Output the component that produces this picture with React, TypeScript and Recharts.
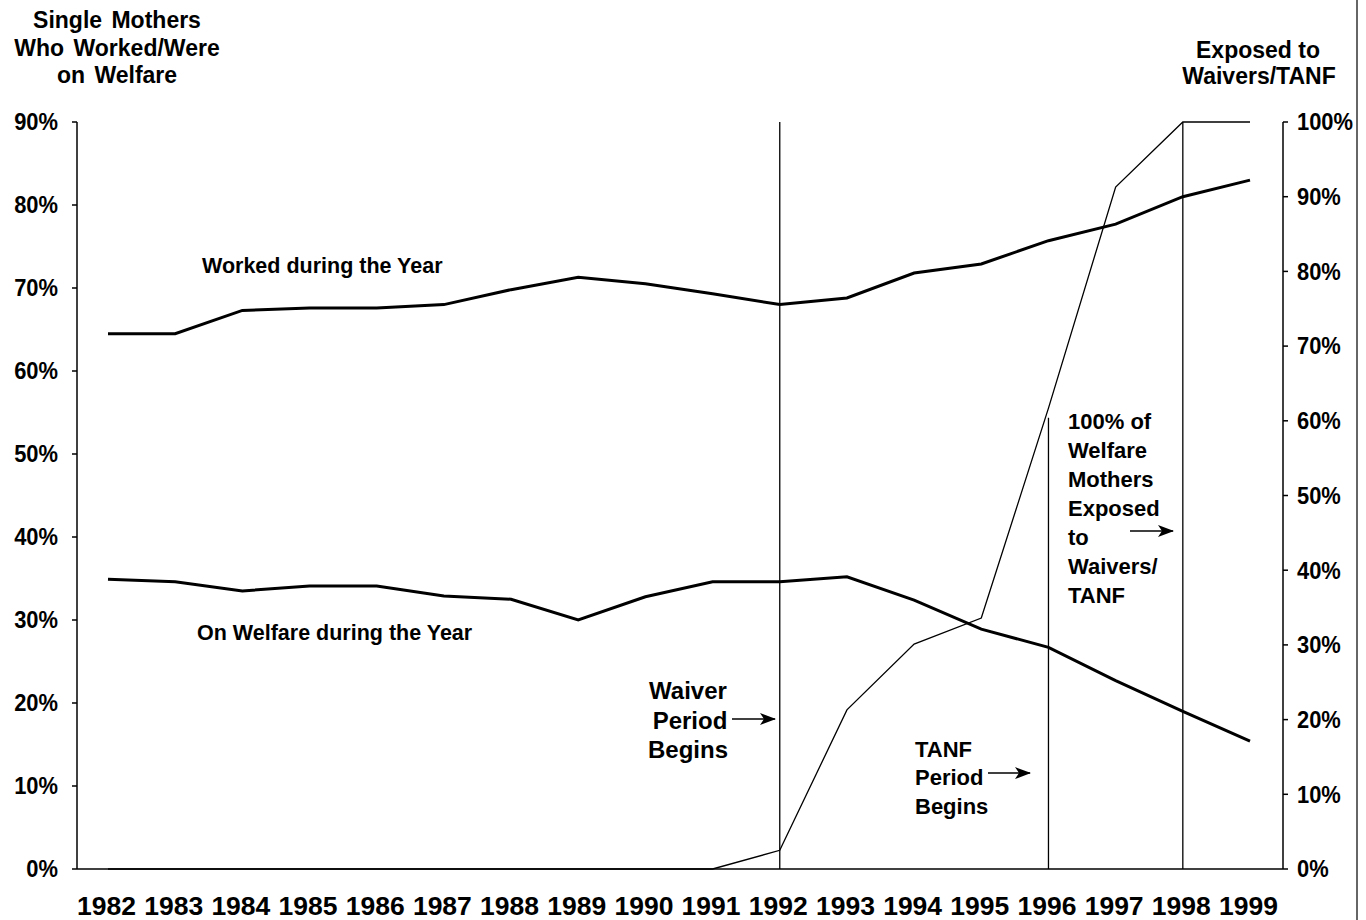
import React from 'react';
import { LineChart, Line, XAxis, YAxis, ReferenceLine } from 'recharts';

const years = ['1982', '1983', '1984', '1985', '1986', '1987', '1988', '1989', '1990', '1991', '1992', '1993', '1994', '1995', '1996', '1997', '1998', '1999'];
const workedPct = [64.5, 64.5, 67.3, 67.6, 67.6, 68.0, 69.8, 71.3, 70.5, 69.3, 68.0, 68.8, 71.8, 72.9, 75.7, 77.7, 81.0, 83.0];
const welfarePct = [34.9, 34.6, 33.5, 34.1, 34.1, 32.9, 32.5, 30.0, 32.8, 34.6, 34.6, 35.2, 32.4, 28.9, 26.7, 22.7, 19.0, 15.4];
const exposedPct = [0, 0, 0, 0, 0, 0, 0, 0, 0, 0, 2.5, 21.3, 30.1, 33.6, 61.7, 91.3, 100, 100];
const leftTicks = [0, 10, 20, 30, 40, 50, 60, 70, 80, 90];
const rightTicks = [0, 10, 20, 30, 40, 50, 60, 70, 80, 90, 100];
const waiverYear = '1992';
const tanfYear = '1996';
const fullYear = '1998';
const tanfLineTop = 60.4;

const data = years.map((year, i) => ({
  year,
  worked: workedPct[i],
  welfare: welfarePct[i],
  exposed: exposedPct[i],
}));

const FONT = "'Liberation Sans', Arial, Helvetica, sans-serif";
const pct = (v: number) => `${Math.round(v)}%`;

const XTick = (props: any) => {
  const { x, y, payload } = props;
  return (
    <text
      x={x - 1.5}
      y={y}
      textAnchor="middle"
      dy="0.71em"
      fontSize={26.5}
      fontWeight="bold"
      fontFamily={FONT}
      fill="#000"
    >
      {payload.value}
    </text>
  );
};

const YTick = (props: any) => {
  const { x, y, payload, textAnchor } = props;
  return (
    <text
      transform={`translate(${x} ${y}) scale(0.94 1)`}
      textAnchor={textAnchor}
      dy="0.36em"
      fontSize={23.3}
      fontWeight="bold"
      fontFamily={FONT}
      fill="#000"
    >
      {pct(payload.value)}
    </text>
  );
};

export default function App() {
  return (
    <div style={{ position: 'absolute', left: 0, top: 0, width: 1366, height: 920, background: '#fff' }}>
      <LineChart width={1366} height={920} data={data} margin={{ top: 122, right: 0, bottom: 0, left: 0 }}>
        <XAxis
          dataKey="year"
          interval={0}
          height={51}
          padding={{ left: 31, right: 33 }}
          tickLine={false}
          tickSize={0}
          tickMargin={27}
          axisLine={{ stroke: '#000', strokeWidth: 1.5 }}
          tick={<XTick />}
        />
        <YAxis
          yAxisId="left"
          orientation="left"
          width={77}
          domain={[0, 90]}
          ticks={leftTicks}
          interval={0}
          axisLine={{ stroke: '#000', strokeWidth: 1.5 }}
          tickLine={{ stroke: '#000', strokeWidth: 1.5 }}
          tickSize={5}
          tickMargin={14}
          tick={<YTick />}
        />
        <YAxis
          yAxisId="right"
          orientation="right"
          width={83}
          domain={[0, 100]}
          ticks={rightTicks}
          interval={0}
          axisLine={{ stroke: '#000', strokeWidth: 1.5 }}
          tickLine={{ stroke: '#000', strokeWidth: 1.5 }}
          tickSize={5}
          tickMargin={9}
          tick={<YTick />}
        />
        <ReferenceLine yAxisId="right" x={waiverYear} stroke="#000" strokeWidth={1.3} />
        <ReferenceLine yAxisId="right" x={fullYear} stroke="#000" strokeWidth={1.3} />
        <ReferenceLine
          yAxisId="right"
          segment={[{ x: tanfYear, y: 0 }, { x: tanfYear, y: tanfLineTop }]}
          stroke="#000"
          strokeWidth={1.3}
        />
        <Line yAxisId="right" type="linear" dataKey="exposed" stroke="#000" strokeWidth={1.3} dot={false} isAnimationActive={false} />
        <Line yAxisId="left" type="linear" dataKey="worked" stroke="#000" strokeWidth={3} dot={false} isAnimationActive={false} />
        <Line yAxisId="left" type="linear" dataKey="welfare" stroke="#000" strokeWidth={3} dot={false} isAnimationActive={false} />
      </LineChart>
      <svg
        width={1366}
        height={920}
        style={{ position: 'absolute', left: 0, top: 0, pointerEvents: 'none' }}
        fontFamily={FONT}
        fontWeight="bold"
        fill="#000"
      >
        <defs>
          <marker id="arrow" markerWidth="16" markerHeight="12" refX="15" refY="6" orient="auto" markerUnits="userSpaceOnUse">
            <path d="M0,0 L16,6 L0,12 L4,6 Z" fill="#000" />
          </marker>
        </defs>
        <line x1={1357} y1={0} x2={1357} y2={920} stroke="#333" strokeWidth={1.5} />
        <g fontSize={23} textAnchor="middle" wordSpacing={3}>
          <text x={117} y={28}>Single Mothers</text>
          <text x={117} y={56}>Who Worked/Were</text>
          <text x={117} y={83}>on Welfare</text>
        </g>
        <g fontSize={23} textAnchor="middle">
          <text x={1258} y={58}>Exposed to</text>
          <text x={1259} y={84}>Waivers/TANF</text>
        </g>
        <g fontSize={21.5}>
          <text x={202} y={273}>Worked during the Year</text>
          <text x={197} y={640}>On Welfare during the Year</text>
        </g>
        <g fontSize={24} textAnchor="middle">
          <text x={688} y={699}>Waiver</text>
          <text x={690} y={729}>Period</text>
          <text x={688} y={758}>Begins</text>
        </g>
        <g fontSize={22}>
          <text x={915} y={757}>TANF</text>
          <text x={915} y={785}>Period</text>
          <text x={915} y={814}>Begins</text>
          <text x={1068} y={429}>100% of</text>
          <text x={1068} y={458}>Welfare</text>
          <text x={1068} y={487}>Mothers</text>
          <text x={1068} y={516}>Exposed</text>
          <text x={1068} y={545}>to</text>
          <text x={1068} y={574}>Waivers/</text>
          <text x={1068} y={603}>TANF</text>
        </g>
        <line x1={732} y1={719} x2={775} y2={719} stroke="#000" strokeWidth={1.6} markerEnd="url(#arrow)" />
        <line x1={988} y1={773} x2={1030} y2={773} stroke="#000" strokeWidth={1.6} markerEnd="url(#arrow)" />
        <line x1={1130} y1={531} x2={1173} y2={531} stroke="#000" strokeWidth={1.6} markerEnd="url(#arrow)" />
      </svg>
    </div>
  );
}
